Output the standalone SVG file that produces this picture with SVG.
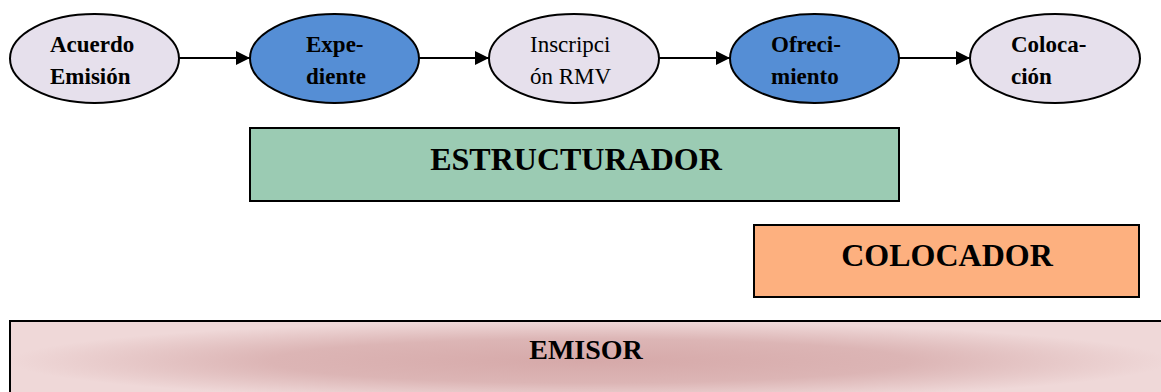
<svg xmlns="http://www.w3.org/2000/svg" width="1161" height="392" viewBox="0 0 1161 392">
<defs>
<style>
.ell{stroke:#000;stroke-width:2}
.lav{fill:#e6e0ec}
.blue{fill:#558ed5}
.t{font-family:"Liberation Serif","Times New Roman",serif;font-size:23px;fill:#000}
.b{font-weight:bold}
.big{font-family:"Liberation Serif","Times New Roman",serif;font-weight:bold;fill:#000;text-anchor:middle}
.box{stroke:#000;stroke-width:2}
.conn{stroke:#000;stroke-width:2;fill:none;marker-end:url(#arr)}
</style>
<marker id="arr" markerWidth="14" markerHeight="14" viewBox="0 0 14 14" refX="14" refY="7" orient="auto" markerUnits="userSpaceOnUse">
<path d="M0,0 L14,7 L0,14 Z" fill="#000"/>
</marker>
<radialGradient id="emi" cx="0.5" cy="0.5" r="0.5" gradientUnits="objectBoundingBox">
<stop offset="0" stop-color="#d6a9a9"/>
<stop offset="0.55" stop-color="#dcb5b5"/>
<stop offset="1" stop-color="#efd8d8"/>
</radialGradient>
</defs>
<rect width="1161" height="392" fill="#fff"/>
<g id="connectors">
<line class="conn" x1="179" y1="58" x2="250" y2="58"/>
<line class="conn" x1="419" y1="58" x2="489" y2="58"/>
<line class="conn" x1="659" y1="58" x2="730" y2="58"/>
<line class="conn" x1="899" y1="58" x2="970" y2="58"/>
</g>
<g id="n1">
<ellipse class="ell lav" cx="94.5" cy="58.5" rx="84.5" ry="44.5"/>
<text class="t b" x="50" y="52">Acuerdo</text>
<text class="t b" x="50" y="84">Emisión</text>
</g>
<g id="n2">
<ellipse class="ell blue" cx="334.5" cy="58.5" rx="84.5" ry="44.5"/>
<text class="t b" x="306" y="52">Expe-</text>
<text class="t b" x="306" y="84">diente</text>
</g>
<g id="n3">
<ellipse class="ell lav" cx="574" cy="58.5" rx="85" ry="44.5"/>
<text class="t" x="530" y="52">Inscripci</text>
<text class="t" x="530" y="84">ón RMV</text>
</g>
<g id="n4">
<ellipse class="ell blue" cx="814.5" cy="58.5" rx="84.5" ry="44.5"/>
<text class="t b" x="771" y="52">Ofreci-</text>
<text class="t b" x="771" y="84">miento</text>
</g>
<g id="n5">
<ellipse class="ell lav" cx="1055" cy="58.5" rx="85" ry="44.5"/>
<text class="t b" x="1011" y="52">Coloca-</text>
<text class="t b" x="1011" y="84">ción</text>
</g>
<g id="estructurador">
<rect class="box" x="250" y="128" width="649" height="73" fill="#9bcbb3"/>
<text class="big" x="576" y="170" font-size="32">ESTRUCTURADOR</text>
</g>
<g id="colocador">
<rect class="box" x="754" y="225" width="385" height="72" fill="#fdb07f"/>
<text class="big" x="947" y="266" font-size="32">COLOCADOR</text>
</g>
<g id="emisor">
<rect class="box" x="10" y="321" width="1160" height="80" fill="url(#emi)"/>
<text class="big" x="586" y="359" font-size="28">EMISOR</text>
</g>
</svg>
